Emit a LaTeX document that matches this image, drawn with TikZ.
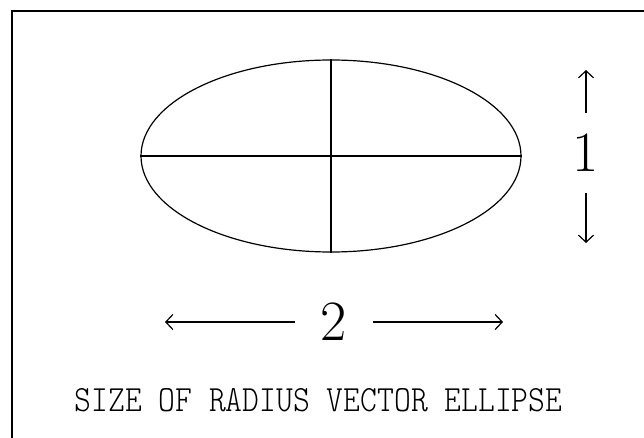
\documentclass[tikz,border=0pt]{standalone}
\usetikzlibrary{shapes.geometric,arrows.meta,positioning}
\tikzset{
  frame/.style={line width=2pt},
  outline/.style={
    shape = ellipse,
    draw,
    line width=1.2pt,
    inner sep=0pt
  },
  axis/.style={line width=1.5pt},
  dimline/.style={
    line width=1.2pt,
    -{Straight Barb[length=7pt,width=15pt,line width=1.2pt]}
  },
  digit/.style={
    font=\fontsize{57}{57}\selectfont,
    inner sep=0pt
  },
  caption/.style={
    font=\ttfamily\fontseries{l}\fontsize{37}{37}\selectfont,
    xscale=0.866,
    inner sep=0pt,
    anchor=base
  }
}

\begin{document}
\begin{tikzpicture}[x=1pt,y=-1pt]
  \useasboundingbox (0,0) rectangle (644,438);

  % frame (top and left edges only)
  \draw[frame] (11.5,438) -- (11.5,11.5) -- (644,11.5);

  % the ellipse and its two axes
  \node[outline, minimum width=380pt, minimum height=192pt] (ell) at (331,156) {};
  \draw[axis] (ell.west) -- (ell.east);
  \draw[axis] (ell.north) -- (ell.south);

  % vertical size
  \node[digit, minimum height=80pt] (one) at (586,153) {1};
  \coordinate (uptip) at (586,70);
  \coordinate (downtip) at (586,243);
  \draw[dimline] (one.north) -- (uptip);
  \draw[dimline] (one.south) -- (downtip);

  % horizontal size
  \node[digit, minimum width=78pt] (two) at (334,322) {2};
  \coordinate (lefttip) at (165,322);
  \coordinate (righttip) at (503,322);
  \draw[dimline] (two.west) -- (lefttip);
  \draw[dimline] (two.east) -- (righttip);

  \node[caption] (title) at (318.5,411) {SIZE OF RADIUS VECTOR ELLIPSE};
\end{tikzpicture}
\end{document}
